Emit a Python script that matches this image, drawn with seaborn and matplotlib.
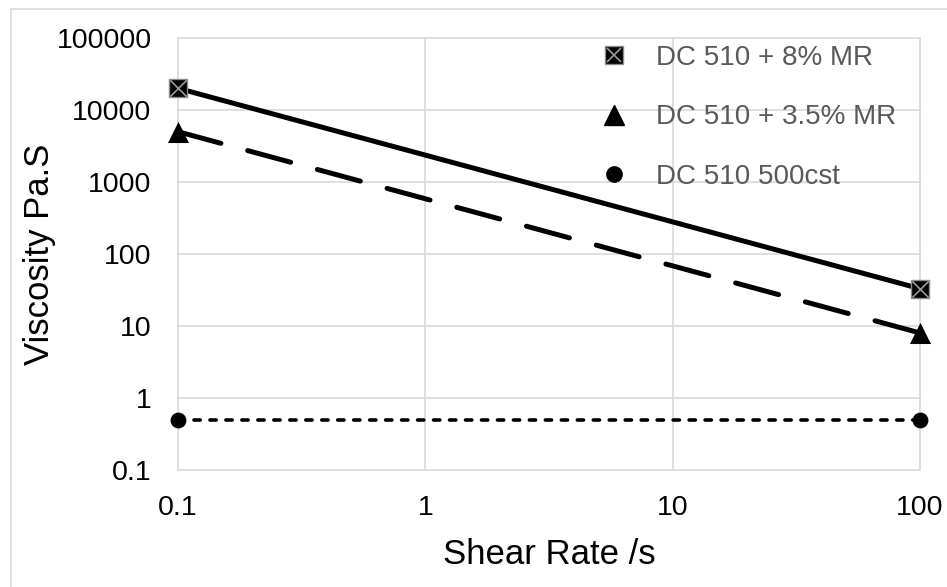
import numpy as np
import pandas as pd
import matplotlib
matplotlib.use("Agg")
import matplotlib.pyplot as plt
from matplotlib.lines import Line2D
from matplotlib.patches import Rectangle
from matplotlib.ticker import FixedLocator, FixedFormatter, NullLocator
import seaborn as sns

# data
shear_rate = [0.1, 100]
visc_8mr = [20000, 33]
visc_35mr = [5000, 8]
visc_500cst = [0.5, 0.5]
series_names = ["DC 510 + 8% MR", "DC 510 + 3.5% MR", "DC 510 500cst"]

x_ticks = [0.1, 1, 10, 100]
x_ticklabels = ["0.1", "1", "10", "100"]
y_ticks = [0.1, 1, 10, 100, 1000, 10000, 100000]
y_ticklabels = ["0.1", "1", "10", "100", "1000", "10000", "100000"]

sns.set_style("white")
plt.rcParams["font.family"] = ["Liberation Sans", "DejaVu Sans"]
plt.rcParams["lines.scale_dashes"] = False

fig = plt.figure(figsize=(9.47, 5.87), dpi=100)
ax = fig.add_axes([178/947, 1-470/587, (920-178)/947, (470-38)/587])

grid_c = "#d9d9d9"

df = pd.DataFrame({
    "rate": shear_rate * 3,
    "visc": visc_8mr + visc_35mr + visc_500cst,
    "series": [series_names[0]]*2 + [series_names[1]]*2 + [series_names[2]]*2,
})

# lines
sns.lineplot(data=df[df.series == series_names[0]], x="rate", y="visc",
             ax=ax, color="black", lw=3.6, solid_capstyle="round", zorder=3)
sns.lineplot(data=df[df.series == series_names[1]], x="rate", y="visc",
             ax=ax, color="black", lw=3.6, dashes=(32, 20),
             dash_capstyle="round", zorder=3)
sns.lineplot(data=df[df.series == series_names[2]], x="rate", y="visc",
             ax=ax, color="black", lw=2.6, dashes=(4.5, 7),
             dash_capstyle="round", zorder=3)

# markers
sns.scatterplot(x=shear_rate, y=visc_8mr, ax=ax, marker="s", s=180,
                color="black", edgecolor="#8c8c8c", linewidth=1, zorder=5,
                clip_on=False)
sns.scatterplot(x=shear_rate, y=visc_8mr, ax=ax, marker="x", s=140,
                color="#9a9a9a", linewidth=1.2, zorder=6, clip_on=False)
sns.scatterplot(x=shear_rate, y=visc_35mr, ax=ax, marker="^", s=230,
                color="black", linewidth=0, zorder=5, clip_on=False)
sns.scatterplot(x=shear_rate, y=visc_500cst, ax=ax, marker="o", s=130,
                color="black", linewidth=0, zorder=5, clip_on=False)

ax.set_xscale("log")
ax.set_yscale("log")
ax.set_xlim(0.1, 100)
ax.set_ylim(0.1, 100000)
ax.xaxis.set_major_locator(FixedLocator(x_ticks))
ax.xaxis.set_major_formatter(FixedFormatter(x_ticklabels))
ax.yaxis.set_major_locator(FixedLocator(y_ticks))
ax.yaxis.set_major_formatter(FixedFormatter(y_ticklabels))
ax.xaxis.set_minor_locator(NullLocator())
ax.yaxis.set_minor_locator(NullLocator())
ax.grid(True, color=grid_c, lw=1.2, zorder=0)
ax.tick_params(axis="both", length=0, labelsize=20.5, labelcolor="black")
ax.tick_params(axis="x", pad=18)
ax.tick_params(axis="y", pad=19)
for s in ax.spines.values():
    s.set_visible(False)
for ln in ax.get_xgridlines() + ax.get_ygridlines():
    ln.set_clip_on(False)

ax.set_xlabel("Shear Rate /s", fontsize=25, color="black", labelpad=12)
ax.set_ylabel("Viscosity Pa.S", fontsize=25, color="black", labelpad=0)

# legend, markers only
handles = [
    (Line2D([], [], ls="none", marker="s", ms=12.5, mfc="black", mec="#8c8c8c"),
     Line2D([], [], ls="none", marker="x", ms=10.5, mec="#9a9a9a", mew=1.2)),
    Line2D([], [], ls="none", marker="^", ms=14, color="black"),
    Line2D([], [], ls="none", marker="o", ms=11, color="black"),
]
leg = ax.legend(handles, series_names, loc="upper left",
                bbox_to_anchor=(600/947, 1-45/587), bbox_transform=fig.transFigure,
                frameon=False, fontsize=20, handlelength=1.0, handletextpad=1.0,
                labelspacing=1.2, borderpad=0, borderaxespad=0)
for t in leg.get_texts():
    t.set_color("#595959")

# chart area border
fig.patches.append(Rectangle((11/947, -0.1), 1.2, 1-9/587+0.1,
                             transform=fig.transFigure, fill=False,
                             edgecolor=grid_c, lw=1.2))

fig.savefig("out.png", dpi=100)
